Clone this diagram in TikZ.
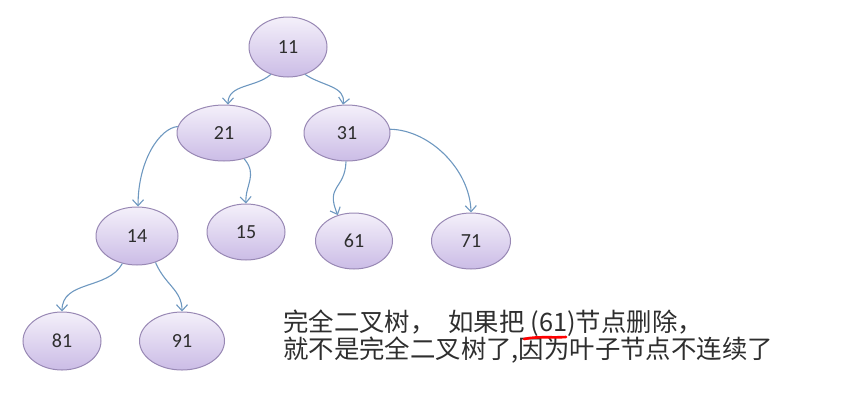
\documentclass[tikz,border=0pt]{standalone}
\usepackage{fontspec}
\usetikzlibrary{shapes.geometric,arrows.meta}
\newfontfamily\numfont{Carlito}
\newfontfamily\cjk{Noto Sans CJK SC}
\definecolor{edgeblue}{HTML}{6E98C0}
\definecolor{nodeborder}{HTML}{9888B4}
\definecolor{nodetop}{HTML}{F4F0FA}
\definecolor{nodebot}{HTML}{CBBCE6}
\definecolor{txt}{HTML}{2E2E2E}
\tikzset{
  tnode/.style={ellipse, draw=nodeborder, line width=1pt, top color=nodetop, bottom color=nodebot,
    minimum width=80pt, minimum height=57pt, inner sep=0pt,
    font=\numfont\fontsize{20}{20}\selectfont, text=txt},
  edge/.style={draw=edgeblue, line width=1.1pt, -{Straight Barb[length=6pt,width=11pt]}},
  note/.style={anchor=west, inner sep=0pt, font=\cjk\fontsize{25.4}{25.4}\selectfont, text=txt}
}
\begin{document}
\begin{tikzpicture}[x=1pt,y=-1pt]
\useasboundingbox (0,0) rectangle (848,408);
\node[tnode, minimum width=78pt, minimum height=60pt] (n11) at (288,47) {11};
\node[tnode, minimum width=94pt, minimum height=56pt] (n21) at (224,133) {21};
\node[tnode, minimum width=86pt, minimum height=56pt] (n31) at (347,133) {31};
\node[tnode, minimum width=82pt, minimum height=58pt] (n14) at (137,236) {14};
\node[tnode, minimum width=78pt, minimum height=56pt] (n15) at (246,232) {15};
\node[tnode, minimum width=77pt, minimum height=56pt] (n61) at (354,241) {61};
\node[tnode, minimum width=79pt, minimum height=56pt] (n71) at (471,241) {71};
\node[tnode, minimum width=78pt, minimum height=58pt] (n81) at (62,341) {81};
\node[tnode, minimum width=85pt, minimum height=58pt] (n91) at (182,341) {91};

\draw[edge] (n11.238) .. controls (255,88) and (228,84) .. (n21.82);
\draw[edge] (n11.-58) .. controls (322,86) and (346,86) .. (n31.98);
\draw[edge] (n21.172) .. controls (160,128) and (138,160) .. (n14.88);
\draw[edge] (n21.-52) .. controls (258,175) and (245,185) .. (n15.90);
\draw[edge] (n31.-92) .. controls (345,190) and (325,185) .. (n61.122);
\draw[edge] (n31.5) .. controls (430,130) and (470,170) .. (n71.90);
\draw[edge] (n14.-118) .. controls (108,290) and (62,280) .. (n81.90);
\draw[edge] (n14.-55) .. controls (165,285) and (182,290) .. (n91.90);

\node[note] (l1) at (283,323) {完全二叉树，\hspace{13pt}如果把 (61)节点删除，};
\node[note] (l2) at (283,350) {就不是完全二叉树了,因为叶子节点不连续了};
\draw[red, line width=2.6pt, line cap=round] (524,339) .. controls (538,336) and (552,338) .. (566,337);
\end{tikzpicture}
\end{document}
